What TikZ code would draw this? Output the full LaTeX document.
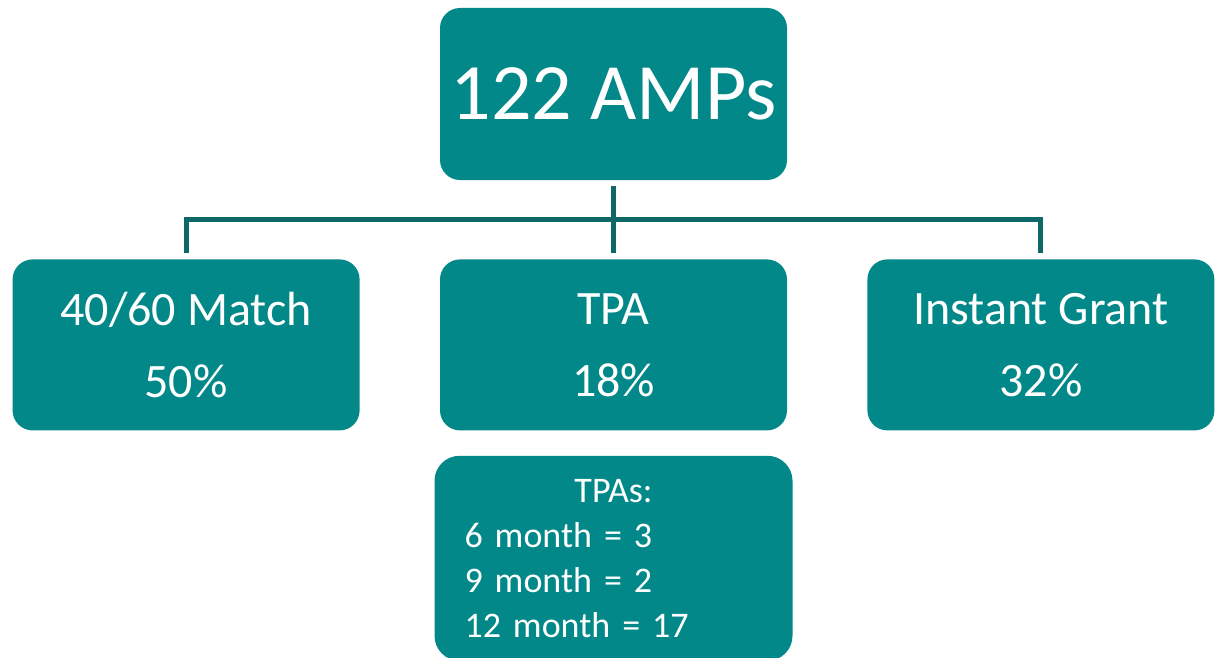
\documentclass[tikz,border=0pt]{standalone}
\usepackage{fontspec}
\setmainfont{Carlito}
\usetikzlibrary{positioning}
\definecolor{tealfill}{RGB}{2,136,136}
\definecolor{tealline}{RGB}{14,104,104}

\begin{document}
\begin{tikzpicture}[x=1pt, y=1pt, node distance=80pt,
        box/.style={rectangle, rounded corners=20pt, fill=tealfill, text=white,
                inner sep=0pt, minimum width=347pt, minimum height=171pt, align=center},
        link/.style={draw=tealline, line width=5pt, shorten <=6pt, shorten >=6pt}]
        \useasboundingbox (0,0) rectangle (1215,-658);

        \node[box, minimum height=172pt, font=\fontsize{80}{96}\selectfont] (amps) at (613.5,-94) {122 AMPs};
        \node[box, below=79pt of amps, font=\fontsize{48}{72}\selectfont] (tpa) {TPA\\18\%};
        \node[box, left=80pt of tpa, font=\fontsize{48}{72}\selectfont] (match) {40/60 Match\\50\%};
        \node[box, right=80pt of tpa, font=\fontsize{48}{72}\selectfont] (grant) {Instant Grant\\32\%};
        \node[box, below=25pt of tpa, minimum width=358pt, minimum height=205pt,
                text width=298pt, align=left, rounded corners=25pt,
                font=\fontsize{36}{45}\selectfont] (tpas)
                {\makebox[298pt]{TPAs:}\\6 month = 3\\9 month = 2\\12 month = 17};

        \path (amps.south) -- coordinate[pos=0.5] (bus) (tpa.north);
        \draw[link] (amps.south) -- (tpa.north);
        \draw[link] (match.north) |- (bus) -| (grant.north);
\end{tikzpicture}
\end{document}
